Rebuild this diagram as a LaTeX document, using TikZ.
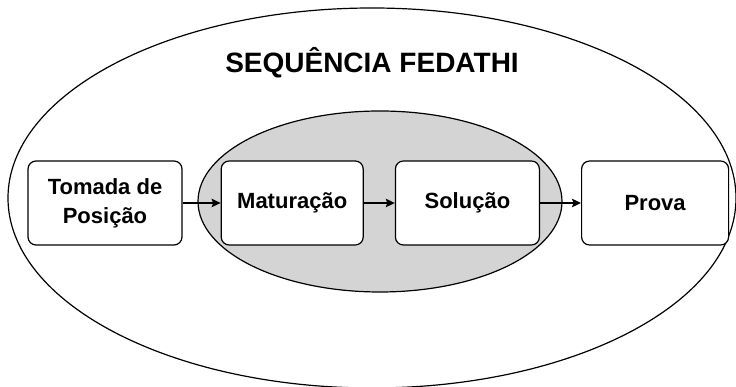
\documentclass[tikz,border=0pt]{standalone}
\usepackage{fontspec}
\setmainfont{Liberation Sans}
\usetikzlibrary{shapes.geometric, arrows, arrows.meta, positioning}
\tikzstyle{etapa} = [rectangle, rounded corners=8pt,
minimum width=146pt,
minimum height=84pt,
text centered,
align=center,
line width=1.2pt,
draw=black,
fill=white,
font=\fontsize{22}{29}\selectfont\bfseries]
\tikzstyle{campo} = [ellipse, draw=black, line width=1.2pt, inner sep=0pt]
\tikzstyle{arrow} = [line width=1.3pt,-{Stealth[length=9pt,width=8.5pt,inset=1.5pt]}]

\begin{document}
\begin{tikzpicture}[x=1pt, y=1pt]
\useasboundingbox (0,0) rectangle (736,387);

\node (sequencia) [campo, fill=white, minimum width=728pt, minimum height=380pt] at (372,189) {};
\node (nucleo) [campo, fill=black!17, minimum width=364pt, minimum height=181pt] at (380,185.5) {};

\node (titulo) [anchor=base, font=\fontsize{28}{32}\selectfont\bfseries] at (372,314) {SEQUÊNCIA FEDATHI};

\node (tomada) [etapa, minimum width=154pt] at (105,184) {Tomada de\\Posição};
\node (maturacao) [etapa, minimum width=142pt, right=38pt of tomada] {Maturação};
\node (solucao) [etapa, minimum width=144pt, right=31pt of maturacao] {Solução};
\node (prova) [etapa, minimum width=147pt, right=41pt of solucao] {Prova};

\draw [arrow] (tomada) -- (maturacao);
\draw [arrow] (maturacao) -- (solucao);
\draw [arrow] (solucao) -- (prova);

\end{tikzpicture}
\end{document}
